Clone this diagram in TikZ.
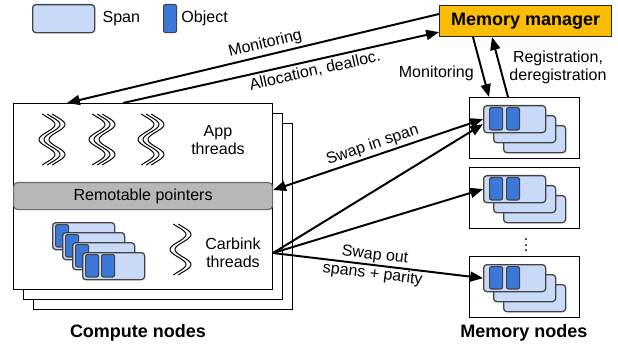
\documentclass[tikz,border=0pt]{standalone}
\usepackage{fontspec}
\setmainfont{Liberation Sans}
\usepackage{tikz}
\usetikzlibrary{positioning,arrows.meta,calc}
\definecolor{cbSpan}{HTML}{C9DAF8}
\definecolor{cbObj}{HTML}{3C78D8}
\definecolor{cbMgr}{HTML}{FBBC04}
\definecolor{cbPtr}{HTML}{B7B7B7}
\definecolor{cbEdge}{HTML}{434343}

% wavy thread glyph: first line x, top y, number of lines
\newcommand{\threadwave}[3]{%
  \foreach \k in {1,...,#3}
    \draw[wave] plot[domain=0:51, samples=40, smooth, variable=\t]
      ({#1+(\k-1)*5+8*sin(12*(\t-3))},{#2+\t});
}

\begin{document}
\begin{tikzpicture}[
  x=0.025cm, y=-0.025cm,
  every node/.style={font=\fontsize{11.4}{12.8}\selectfont, inner sep=0pt},
  cbox/.style={rectangle, draw, fill=white, line width=0.7pt, anchor=north west,
               minimum width=6.475cm, minimum height=4.65cm},
  mbox/.style={rectangle, draw, fill=white, line width=0.8pt, anchor=north west,
               minimum width=2.75cm, minimum height=1.525cm},
  spanbox/.style={rectangle, rounded corners=0.8mm, draw=cbEdge, fill=cbSpan, line width=0.9pt,
                  anchor=north west, minimum width=1.55cm, minimum height=0.675cm},
  objbox/.style={rectangle, rounded corners=0.5mm, draw=cbEdge, fill=cbObj, line width=0.8pt,
                 anchor=north west, minimum width=0.325cm, minimum height=0.56cm},
  ptrbar/.style={rectangle, rounded corners=1mm, draw=cbEdge!80, fill=cbPtr, line width=0.8pt,
                 anchor=north west, minimum width=6.475cm, minimum height=0.675cm},
  manager/.style={rectangle, draw=black!85, fill=cbMgr, line width=0.8pt, anchor=north west,
                  minimum width=4.3cm, minimum height=0.775cm,
                  font=\fontsize{12.8}{14}\selectfont\bfseries},
  heading/.style={font=\fontsize{12.8}{14}\selectfont\bfseries},
  wave/.style={line width=0.7pt},
  link/.style={line width=1.4pt, -{Triangle[length=3.2mm,width=2.5mm]}},
  dlink/.style={line width=1.4pt, {Triangle[length=3.2mm,width=2.5mm]}-{Triangle[length=3.2mm,width=2.5mm]}}
]
  \useasboundingbox (0,0) rectangle (618,347);

  % legend
  \node[spanbox, minimum height=0.7cm] (lspan) at (32,4) {};
  \node[right=0.175cm of lspan] (lspantxt) {Span};
  \node[objbox, minimum height=0.7cm] (lobj) at (163,4) {};
  \node[right=0.1cm of lobj] (lobjtxt) {Object};

  % compute nodes
  \node[cbox] (cn3) at (33,123) {};
  \node[cbox] (cn2) at (23,113) {};
  \node[cbox] (cn1) at (13,103) {};
  \node[ptrbar] (rp) at (13,182) {Remotable pointers};
  \threadwave{47}{114}{3}
  \threadwave{97}{114}{3}
  \threadwave{146}{114}{3}
  \node[align=center] (app) at (218,140) {App\\threads};
  \threadwave{178}{224}{2}
  \node[align=center] (carb) at (233,253) {Carbink\\threads};
  \foreach \i in {0,1,2} {
    \node[spanbox] (cs\i) at (52+10*\i,222+10*\i) {};
    \node[objbox] at ($(cs\i.north west)+(3,2)$) {};
  }
  \node[spanbox] (cs3) at (82,252) {};
  \node[objbox] at ($(cs3.north west)+(3,2)$) {};
  \node[objbox] at ($(cs3.north west)+(19,2)$) {};
  \node[heading] (ctitle) at (138,333) {Compute nodes};

  % memory nodes
  \foreach \n/\my in {1/97, 2/167, 3/256} {
    \node[mbox] (mb\n) at (469,\my) {};
    \node[spanbox] (ms\n c) at (503,\my+28) {};
    \node[spanbox] (ms\n b) at (493,\my+18) {};
    \node[spanbox] (ms\n) at (483,\my+8) {};
    \node[objbox] at ($(ms\n.north west)+(6,2)$) {};
    \node[objbox] at ($(ms\n.north west)+(23,2)$) {};
  }
  \node (dots) at (526,241) {$\vdots$};
  \node[heading] (mtitle) at (524,333) {Memory nodes};

  % memory manager
  \node[manager] (mm) at (439,5) {Memory manager};

  % connectors
  \draw[link] ($(mm.north west)+(0,9)$) -- node[pos=0.46, sloped, above=2pt] {Monitoring}
    ($(cn1.north west)+(54,0)$);
  \draw[link] ($(cn1.north west)+(110,0)$) -- node[pos=0.6, sloped, below=2pt] {Allocation, dealloc.}
    ($(mm.south west)+(0,-5)$);
  \draw[link] ($(mm.south west)+(34,0)$) -- ($(mb1.north west)+(20,0)$);
  \draw[link] ($(mb1.north west)+(39,0)$) -- ($(mm.south west)+(53,0)$);
  \node[anchor=east] (mon2) at (474,73) {Monitoring};
  \node[align=center] (reg) at (558,67) {Registration,\\deregistration};

  \draw[dlink] ($(rp.east)+(0,-6)$) -- node[pos=0.49, sloped, above=1.5pt] {Swap in span} (ms1.west);
  \coordinate (cout) at (cn1.east |- carb);
  \draw[link] (cout) -- ($(ms1.west)+(0,5)$);
  \draw[link] (cout) -- (ms2.west);
  \draw[link] (cout) -- node[pos=0.48, sloped, align=center] {Swap out\\[1pt]spans + parity} (ms3.west);
\end{tikzpicture}
\end{document}
